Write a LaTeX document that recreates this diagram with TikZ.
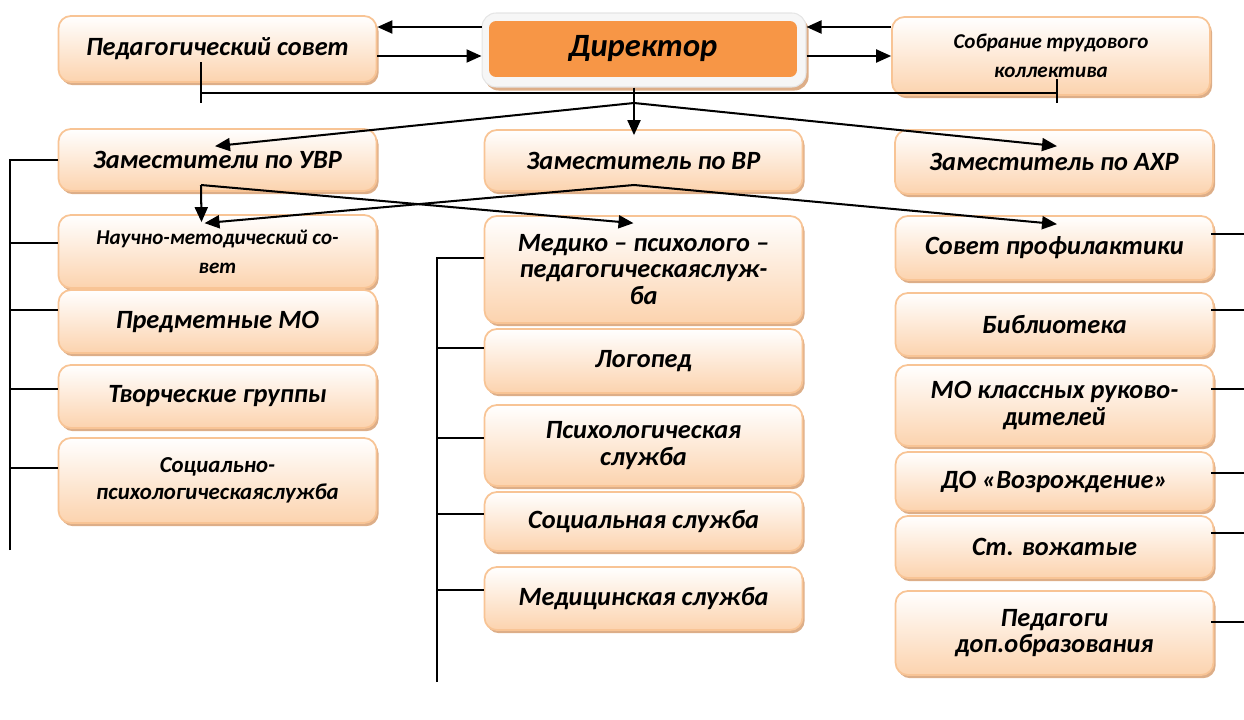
\documentclass[tikz,border=0pt]{standalone}
\usepackage{fontspec}
\setmainfont{Carlito}
\usetikzlibrary{arrows.meta, shadows, calc}

\definecolor{unitline}{HTML}{F8C495}
\definecolor{unitfill}{HTML}{FCD3AE}
\definecolor{unitshade}{HTML}{DDAE88}
\definecolor{dirorange}{HTML}{F79646}

\tikzset{
  unit/.style={rectangle, rounded corners=7pt, draw=unitline, line width=1pt,
    top color=white, bottom color=unitfill, minimum width=6.36cm,
    align=center, inner sep=2pt,
    font=\bfseries\itshape\fontsize{15}{15}\selectfont,
    drop shadow={shadow xshift=1.2pt, shadow yshift=-1.8pt, fill=unitshade, opacity=1}},
  smalltext/.style={font=\bfseries\itshape\fontsize{12}{16.5}\selectfont},
  dirframe/.style={rectangle, rounded corners=8pt, fill=gray!7, draw=gray!20, line width=0.6pt,
    drop shadow={shadow xshift=1.5pt, shadow yshift=-2pt, fill=unitshade, opacity=1}},
  dirbox/.style={rectangle, rounded corners=4pt, fill=dirorange,
    font=\bfseries\itshape\fontsize{18.5}{20}\selectfont},
  arr/.style={-{Triangle[length=0.3cm,width=0.26cm]}}
}

\begin{document}
\begin{tikzpicture}[x=0.02cm, y=-0.02cm, line width=1.15pt]
\useasboundingbox (0,0) rectangle (1244,720);

% top row
\node[unit, minimum height=1.32cm] (pedsov) at (217.5,49) {Педагогический совет};
\node[dirframe, minimum width=6.48cm, minimum height=1.48cm] (dir) at (644,50) {};
\node[dirbox, minimum width=6.16cm, minimum height=1.12cm] (dirIn) at (643,49) {Директор};
\node[unit, smalltext, minimum height=1.56cm] (sobr) at (1051,56) {Собрание трудового\\коллектива};

% deputies
\node[unit, minimum height=1.24cm] (uvr) at (217.5,160) {Заместители по УВР};
\node[unit, minimum height=1.22cm] (vr) at (643.5,160.5) {Заместитель по ВР};
\node[unit, minimum height=1.28cm] (ahr) at (1054,162) {Заместитель по АХР};

% left column
\node[unit, smalltext, minimum height=1.46cm] (nms) at (217.5,251.5) {Научно-методический со-\\вет};
\node[unit, minimum height=1.26cm] (pmo) at (217.5,321.5) {Предметные МО};
\node[unit, font=\bfseries\itshape\fontsize{13}{15.5}\selectfont, minimum height=1.70cm] (sps) at (217.5,480.5) {Социально-\\психологическаяслужба};
\node[unit, minimum height=1.26cm] (tvg) at (217.5,396.5) {Творческие группы};

% middle column
\node[unit, minimum height=2.14cm] (mpps) at (643.5,269.5) {Медико – психолого –\\педагогическаяслуж-\\ба};
\node[unit, minimum height=1.28cm] (logo) at (643.5,361) {Логопед};
\node[unit, minimum height=1.62cm] (psy) at (643.5,445.5) {Психологическая\\служба};
\node[unit, minimum height=1.18cm] (soc) at (643.5,521.5) {Социальная служба};
\node[unit, minimum height=1.26cm] (med) at (643.5,598.5) {Медицинская служба};

% right column
\node[unit, minimum height=1.28cm] (sovp) at (1054.5,248) {Совет профилактики};
\node[unit, minimum height=1.26cm] (bibl) at (1054.5,324.5) {Библиотека};
\node[unit, minimum height=1.62cm] (mokr) at (1054.5,405.5) {МО классных руково-\\дителей};
\node[unit, minimum height=1.18cm] (vozr) at (1054.5,481.5) {ДО «Возрождение»};
\node[unit, minimum height=1.24cm] (vozh) at (1054.5,547) {Ст. вожатые};
\node[unit, minimum height=1.68cm] (pdo) at (1054.5,633) {Педагоги\\доп.образования};

% links around the director
\coordinate (rowA) at (0,27);
\coordinate (rowB) at (0,56);
\draw[arr] (dir.west |- rowA) -- (pedsov.east |- rowA);
\draw[arr] (pedsov.east |- rowB) -- (dir.west |- rowB);
\draw[arr] (sobr.west |- rowA) -- (dir.east |- rowA);
\draw[arr] (dir.east |- rowB) -- (sobr.west |- rowB);

% bar between the councils
\coordinate (barL) at (201,93);
\coordinate (barR) at (1057,93);
\draw ($(pedsov.center)+(-16.5,13)$) -- ($(barL)+(0,10)$);
\draw (barL) -- (barR);
\draw ($(sobr.center)+(6,23)$) -- ($(barR)+(0,10)$);

% director to deputies
\coordinate (forkDir) at (634,103);
\draw (forkDir |- dir.south) -- (forkDir);
\draw[arr] (forkDir) -- ($(vr.north -| forkDir)+(0,6)$);
\draw[arr] (forkDir) -- ($(uvr.north)+(-2.5,18)$);
\draw[arr] (forkDir) -- ($(ahr.north)+(3,17)$);

% deputies to services
\coordinate (forkVR) at (634,185);
\draw[arr] (forkVR) -- ($(nms.north)+(-13,9)$);
\draw[arr] (forkVR) -- ($(sovp.north)+(2.5,9)$);
\coordinate (forkUVR) at (201,185);
\draw[arr] (forkUVR) -- ($(nms.north)+(-16,8)$);
\draw[arr] (forkUVR) -- ($(mpps.north)+(-10,8)$);

% left bus
\coordinate (busL) at (10,550);
\draw (busL) -- (busL |- uvr.west) -- (uvr.west);
\foreach \n/\y in {nms/243, pmo/310, tvg/389, sps/468}
  \draw (\n.west |- 0,\y) -- (busL |- 0,\y);

% middle bus
\coordinate (busM) at (437,682);
\draw (busM) -- (busM |- 0,258) -- (mpps.west |- 0,258);
\foreach \n/\y in {logo/348, psy/438, soc/514, med/590}
  \draw (\n.west |- 0,\y) -- (busM |- 0,\y);

% right ticks
\coordinate (edgeR) at (1244,0);
\foreach \n/\y in {sovp/234, bibl/310, mokr/389, vozr/473, vozh/533, pdo/622}
  \draw ([xshift=-0.06cm]\n.east |- 0,\y) -- (edgeR |- 0,\y);
\end{tikzpicture}
\end{document}
